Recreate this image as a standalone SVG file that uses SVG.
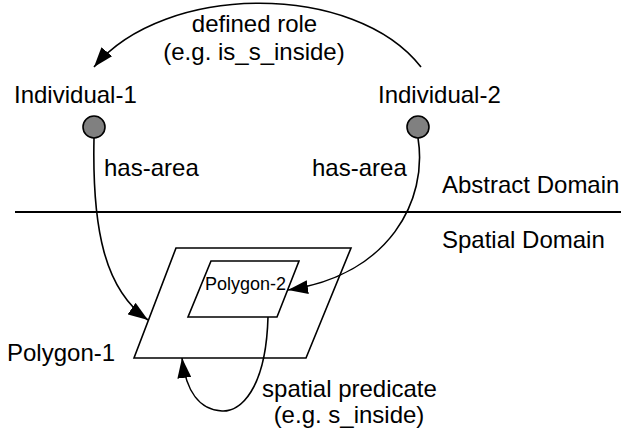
<svg xmlns="http://www.w3.org/2000/svg" width="621" height="433" viewBox="0 0 621 433">
<style>
  text { font-family: "Liberation Sans", Arial, sans-serif; font-size: 24px; fill: #000; }
  .small { font-size: 18px; }
  .mid { text-anchor: middle; }
  .shape { fill: #fff; stroke: #000; stroke-width: 1.6; }
  .conn { fill: none; stroke: #000; stroke-width: 1.6; }
  .ind { fill: #808080; stroke: #000; stroke-width: 1.6; }
</style>
<defs>
  <marker id="arrow" markerUnits="userSpaceOnUse" markerWidth="20" markerHeight="14" refX="20" refY="7" orient="auto">
    <path d="M0,0 L20,7 L0,14 z" fill="#000"/>
  </marker>
</defs>

<line x1="15" y1="212" x2="621" y2="212" stroke="#000" stroke-width="2"/>
<text x="442" y="193">Abstract Domain</text>
<text x="442" y="248">Spatial Domain</text>

<g id="polygon-1">
  <polygon class="shape" points="176,248 351,248 306,358 134,358"/>
  <text x="7" y="361">Polygon-1</text>
</g>
<g id="polygon-2">
  <polygon class="shape" points="211,261 299,261 277,317 188,317"/>
  <text class="small" x="205" y="290">Polygon-2</text>
</g>
<g id="individual-1">
  <circle class="ind" cx="94" cy="127" r="11"/>
  <text x="14" y="103">Individual-1</text>
</g>
<g id="individual-2">
  <circle class="ind" cx="418" cy="127" r="11"/>
  <text x="378" y="103">Individual-2</text>
</g>

<g id="connectors">
  <path class="conn" d="M421,67 C355,-18 165,-18 94,67" marker-end="url(#arrow)"/>
  <text class="mid" x="254.5" y="32">defined role</text>
  <text class="mid" x="254" y="60">(e.g. is_s_inside)</text>

  <path class="conn" d="M94,138 C92,230 105,290 148,320" marker-end="url(#arrow)"/>
  <text x="104" y="176">has-area</text>

  <path class="conn" d="M418,138 C428,200 390,275 288,290" marker-end="url(#arrow)"/>
  <text x="312" y="176">has-area</text>

  <path class="conn" d="M268,317 C266,390 240,412 222,411 C200,410 186,392 182,358" marker-end="url(#arrow)"/>
  <text class="mid" x="349.5" y="397">spatial predicate</text>
  <text class="mid" x="349" y="423">(e.g. s_inside)</text>
</g>
</svg>
